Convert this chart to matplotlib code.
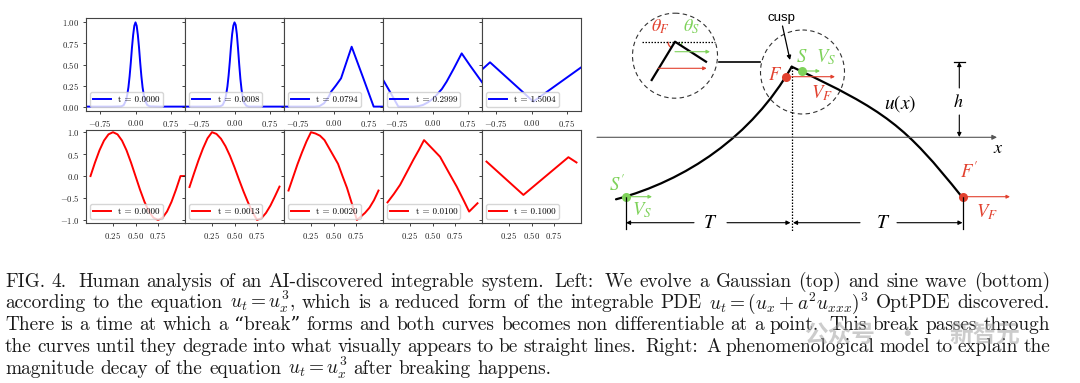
import matplotlib
matplotlib.use('Agg')
import matplotlib.pyplot as plt
from matplotlib.patches import Circle, Arc, PathPatch
from matplotlib.path import Path

# ---------------- data ----------------
gauss_times = ['0.0000', '0.0008', '0.0794', '0.2999', '1.5004']
sine_times = ['0.0000', '0.0013', '0.0020', '0.0100', '0.1000']

g0_x = [-1.05, -0.5, -0.3, -0.25, -0.2, -0.175, -0.15, -0.125, -0.1, -0.075, -0.05, -0.025, 0.0,
        0.025, 0.05, 0.075, 0.1, 0.125, 0.15, 0.175, 0.2, 0.25, 0.3, 0.5, 1.05]
g0_y = [0, 0, 0.003, 0.018, 0.076, 0.14, 0.23, 0.36, 0.52, 0.70, 0.85, 0.96, 1.0,
        0.96, 0.85, 0.70, 0.52, 0.36, 0.23, 0.14, 0.076, 0.018, 0.003, 0, 0]
g1_x = g0_x
g1_y = [0, 0, 0.004, 0.02, 0.08, 0.15, 0.24, 0.37, 0.53, 0.71, 0.86, 0.96, 1.0,
        0.97, 0.86, 0.69, 0.50, 0.33, 0.20, 0.11, 0.05, 0.01, 0, 0, 0]
g2_x = [-1.05, -0.4, -0.3, -0.2, -0.1, -0.05, 0.05, 0.16, 0.27, 0.385, 0.62, 0.852, 1.05]
g2_y = [0, 0, 0.005, 0.04, 0.12, 0.178, 0.25, 0.336, 0.52, 0.711, 0.356, 0, 0]
g3_x = [-1.05, -0.9, -0.725, -0.4, -0.3, -0.2, -0.1, 0.0, 0.088, 0.2, 0.3, 0.45, 0.619, 0.8, 1.05]
g3_y = [0.32, 0.174, 0, 0, 0.005, 0.02, 0.05, 0.09, 0.139, 0.21, 0.297, 0.45, 0.632, 0.485, 0.29]
g4_x = [-1.05, -0.88, 0.039, 0.5, 1.05]
g4_y = [0.44, 0.526, 0.06, 0.245, 0.465]

s0_x = [0.0, 0.05, 0.1, 0.15, 0.2, 0.25, 0.3, 0.35, 0.4, 0.45, 0.5, 0.55, 0.6, 0.65, 0.7,
        0.75, 0.8, 0.85, 0.9, 0.95, 1.0, 1.05]
s0_y = [0, 0.309, 0.588, 0.809, 0.951, 1.0, 0.951, 0.809, 0.588, 0.309, 0, -0.309, -0.588,
        -0.809, -0.951, -1.0, -0.951, -0.809, -0.588, -0.309, 0, 0]
s1_x = [0.0, 0.05, 0.1, 0.15, 0.2, 0.25, 0.3, 0.35, 0.4, 0.45, 0.5, 0.55, 0.6, 0.65, 0.7,
        0.75, 0.8, 0.85, 0.9, 0.95, 1.0]
s1_y = [-0.25, 0.06, 0.36, 0.63, 0.86, 1.0, 0.96, 0.85, 0.68, 0.46, 0.2, -0.08, -0.35,
        -0.6, -0.82, -1.0, -0.96, -0.84, -0.67, -0.46, -0.24]
s2_x = [0.0, 0.05, 0.1, 0.15, 0.2, 0.25, 0.3, 0.35, 0.4, 0.45, 0.5, 0.55, 0.6, 0.65, 0.7,
        0.76, 0.8, 0.85, 0.9, 0.95, 1.0]
s2_y = [-0.33, -0.03, 0.27, 0.54, 0.79, 1.0, 0.97, 0.92, 0.82, 0.64, 0.46, 0.28, 0.0,
        -0.27, -0.6, -1.0, -0.93, -0.84, -0.72, -0.55, -0.33]
s3_x = [0.0, 0.07, 0.14, 0.21, 0.287, 0.35, 0.406, 0.5, 0.584, 0.68, 0.769, 0.85, 0.907, 1.0]
s3_y = [-0.6, -0.41, -0.2, 0.07, 0.37, 0.6, 0.82, 0.62, 0.44, 0.085, -0.24, -0.57, -0.81, -0.62]
s4_x = [0.0, 0.41, 0.91, 1.0]
s4_y = [0.33, -0.43, 0.43, 0.31]

top_ticks_x = [-0.75, 0.0, 0.75]
top_ticks_y = [0.0, 0.25, 0.5, 0.75, 1.0]
bot_ticks_x = [0.25, 0.5, 0.75]
bot_ticks_y = [-1.0, -0.5, 0.0, 0.5, 1.0]

# schematic curve u(x): cubic Bezier control points (figure pixel space)
left_ctrl_x = [616, 686, 751.7, 791.7]
left_ctrl_y = [199.3, 180.4, 136.7, 66.7]
right_ctrl_x = [791.7, 886.7, 905, 962]
right_ctrl_y = [66.7, 111.35, 125.75, 197]

caption_lines = [
    "FIG. 4. Human analysis of an AI-discovered integrable system. Left: We evolve a Gaussian (top) and sine wave (bottom)",
    "according to the equation $u_t = u_x^3$, which is a reduced form of the integrable PDE $u_t = (u_x + a^2 u_{xxx})^3$ OptPDE discovered.",
    "There is a time at which a \u201cbreak\u201d forms and both curves becomes non differentiable at a point. This break passes through",
    "the curves until they degrade into what visually appears to be straight lines. Right: A phenomenological model to explain the",
    "magnitude decay of the equation $u_t = u_x^3$ after breaking happens.",
]

# ---------------- style ----------------
plt.rcParams['font.family'] = ['cmr10', 'DejaVu Serif']
plt.rcParams['mathtext.fontset'] = 'cm'
plt.rcParams['axes.formatter.use_mathtext'] = True

W, H = 1080, 383
fig = plt.figure(figsize=(W / 100, H / 100), dpi=100)

RED = '#e2412f'
GREEN = '#7ed25a'


def make_axes(i, top_px, bot_px):
    left = 86 + i * 99
    return fig.add_axes([left / W, (H - bot_px) / H, 99 / W, (bot_px - top_px) / H])


top_data = [(g0_x, g0_y), (g1_x, g1_y), (g2_x, g2_y), (g3_x, g3_y), (g4_x, g4_y)]
bot_data = [(s0_x, s0_y), (s1_x, s1_y), (s2_x, s2_y), (s3_x, s3_y), (s4_x, s4_y)]


def style_ax(ax, show_y):
    for s in ax.spines.values():
        s.set_linewidth(0.8)
        s.set_color('#444444')
    ax.tick_params(direction='out', length=2.2, width=0.6, labelsize=6.3, pad=2.5, colors='#222222')
    if not show_y:
        ax.tick_params(labelleft=False)


LEG = dict(loc='lower left', fontsize=6.5, handlelength=2.0, borderpad=0.35,
           borderaxespad=0.45, framealpha=0.8, edgecolor='#cccccc')

for i, ((x, y), t) in enumerate(zip(top_data, gauss_times)):
    ax = make_axes(i, 18, 111)
    ax.plot(x, y, color='#0000ff', lw=1.4, label=f't = {t}')
    ax.set_xlim(-1.05, 1.05)
    ax.set_ylim(-0.052, 1.052)
    ax.set_xticks(top_ticks_x)
    ax.set_yticks(top_ticks_y)
    style_ax(ax, i == 0)
    ax.legend(**LEG)

for i, ((x, y), t) in enumerate(zip(bot_data, sine_times)):
    ax = make_axes(i, 130, 223)
    ax.plot(x, y, color='#ff0000', lw=1.4, label=f't = {t}')
    ax.set_xlim(-0.05, 1.05)
    ax.set_ylim(-1.07, 1.05)
    ax.set_xticks(bot_ticks_x)
    ax.set_yticks(bot_ticks_y)
    style_ax(ax, i == 0)
    ax.legend(**LEG)

# ---------------- overlay (schematic + caption) ----------------
ov = fig.add_axes([0, 0, 1, 1])
ov.set_xlim(0, W)
ov.set_ylim(H, 0)
ov.axis('off')
ov.patch.set_alpha(0)


def arrow(x0, y0, x1, y1, color='black', lw=0.8, ms=7):
    ov.annotate('', xy=(x1, y1), xytext=(x0, y0),
                arrowprops=dict(arrowstyle='-|>', color=color, lw=lw, mutation_scale=ms,
                                shrinkA=0, shrinkB=0))


def label(x, y, s, color='black', size=13):
    ov.text(x, y, s, color=color, fontsize=size, math_fontfamily='stix',
            ha='center', va='center')


def bezier(xs, ys):
    path = Path(list(zip(xs, ys)), [Path.MOVETO, Path.CURVE4, Path.CURVE4, Path.CURVE4])
    ov.add_patch(PathPatch(path, fill=False, lw=1.6, ec='black', capstyle='round'))


# x axis
arrow(597, 137.3, 997, 137.3, color='#555555', lw=0.8, ms=7)
label(998.5, 148.5, r'$x$', size=13)

# curve
bezier(left_ctrl_x, left_ctrl_y)
bezier(right_ctrl_x, right_ctrl_y)
label(900, 103.5, r'$u(x)$', size=14)

# dashed circles and connector
ov.add_patch(Circle((675, 55.7), 42.5, fill=False, ls=(0, (4, 3)), lw=0.8, ec='#333333'))
ov.add_patch(Circle((802.5, 72), 42, fill=False, ls=(0, (4, 3)), lw=0.8, ec='#333333'))
ov.plot([718.5, 760], [61.5, 61.5], color='black', lw=1.2)

# inset in small circle
ov.plot([651.7, 675, 706], [80, 41.7, 61.7], color='black', lw=1.6)
ov.plot([641.7, 715], [41.7, 41.7], color='black', lw=0.9, ls=(0, (1.2, 1.2)))
ov.add_patch(Arc((675, 41.7), 14, 14, theta1=121, theta2=180, color=RED, lw=1.0))
ov.add_patch(Arc((675, 41.7), 14, 14, theta1=0, theta2=33, color=GREEN, lw=1.0))
arrow(675, 51.7, 710, 51.7, color=GREEN, lw=0.8, ms=5)
arrow(658.3, 68.3, 706.7, 68.3, color=RED, lw=0.8, ms=5)
label(660, 27, r'$\theta_F$', color=RED, size=13)
label(692, 27, r'$\theta_S$', color=GREEN, size=13)

# cusp
ov.text(781.5, 18.5, 'cusp', fontsize=9.5, family='Liberation Sans', ha='center', va='center')
arrow(782.5, 26, 790, 60, color='black', lw=0.9, ms=6)
ov.plot([791.7, 791.7], [67, 231], color='black', lw=0.9, ls=(0, (1.2, 1.2)))

arrow(791.7, 76.7, 835, 76.7, color=RED, lw=0.8, ms=5)
arrow(801.7, 71, 820, 71, color=GREEN, lw=0.8, ms=5)
ov.plot([786], [76.7], 'o', color=RED, ms=6.5, mec='none')
ov.plot([801.7], [71], 'o', color=GREEN, ms=6.5, mec='none')
label(775, 75, r'$F$', color=RED, size=13.5)
label(802, 57, r'$S$', color=GREEN, size=13.5)
label(826, 57, r'$V_S$', color=GREEN, size=13.5)
label(822, 93.5, r'$V_F$', color=RED, size=13.5)

# S' point
arrow(626, 196.7, 652, 196.7, color=GREEN, lw=0.8, ms=5)
ov.plot([626], [196.7], 'o', color=GREEN, ms=6.5, mec='none')
label(617, 185, r"$S^{\prime}$", color=GREEN, size=13.5)
label(642, 210, r'$V_S$', color=GREEN, size=13.5)
ov.plot([625.5, 625.5], [197, 228.5], color='black', lw=0.9)

# F' point
arrow(963.3, 196.7, 1010, 196.7, color=RED, lw=0.8, ms=5)
ov.plot([963.3], [196.7], 'o', color=RED, ms=6.5, mec='none')
label(969, 172, r"$F^{\prime}$", color=RED, size=13.5)
label(987, 212, r'$V_F$', color=RED, size=13.5)
ov.plot([963.3, 963.3], [197, 228.5], color='black', lw=0.9)

# h
ov.plot([954, 965], [61.7, 61.7], color='black', lw=0.9)
arrow(959.3, 88, 959.3, 62, color='black', lw=0.8, ms=6)
arrow(959.3, 115, 959.3, 137, color='black', lw=0.8, ms=6)
label(958.5, 101.5, r'$h$', size=13)

# T dimensions
arrow(694, 222.7, 626, 222.7, lw=0.8, ms=6)
arrow(727, 222.7, 790.5, 222.7, lw=0.8, ms=6)
label(710, 222.7, r'$T$', size=14)
arrow(860, 222.7, 793, 222.7, lw=0.8, ms=6)
arrow(897, 222.7, 962.5, 222.7, lw=0.8, ms=6)
label(883.3, 223, r'$T$', size=14)

# ---------------- caption (justified) ----------------
renderer = fig.canvas.get_renderer()
cap_fs = 13.9
cap_col = '#1a1a1a'
cap_left, cap_right = 5, 1050
baselines = [286.7, 308.5, 330.3, 352.1, 374]


def split_tokens(line):
    toks, cur, in_math = [], '', False
    for ch in line:
        if ch == '$':
            in_math = not in_math
        if ch == ' ' and not in_math:
            if cur:
                toks.append(cur)
            cur = ''
        else:
            cur += ch
    if cur:
        toks.append(cur)
    return toks


space_probe = ov.text(0, 0, 'a a', fontsize=cap_fs)
aa_probe = ov.text(0, 0, 'aa', fontsize=cap_fs)
space_w = space_probe.get_window_extent(renderer).width - aa_probe.get_window_extent(renderer).width
space_probe.remove()
aa_probe.remove()

for li, (line, yb) in enumerate(zip(caption_lines, baselines)):
    toks = split_tokens(line)
    objs = [ov.text(0, yb, t, fontsize=cap_fs, color=cap_col, va='baseline', ha='left') for t in toks]
    widths = [o.get_window_extent(renderer).width for o in objs]
    weights = [1.6 if (t[-1] in '.:' and t != 'FIG.') else 1.0 for t in toks[:-1]]
    justify = li < len(caption_lines) - 1
    unit = (cap_right - cap_left - sum(widths)) / sum(weights) if justify else space_w
    x = cap_left
    for o, w, g in zip(objs, widths, weights + [0]):
        o.set_x(x)
        x += w + g * unit

# watermark
for wx, wt in [(840, '公众号'), (907, '·'), (985, '新智元')]:
    ov.text(wx, 335, wt, fontsize=17, family='Noto Sans CJK SC', color='#9a9a9a',
            alpha=0.5, ha='center', va='center', fontweight='bold')

fig.savefig('out.png', dpi=100)
